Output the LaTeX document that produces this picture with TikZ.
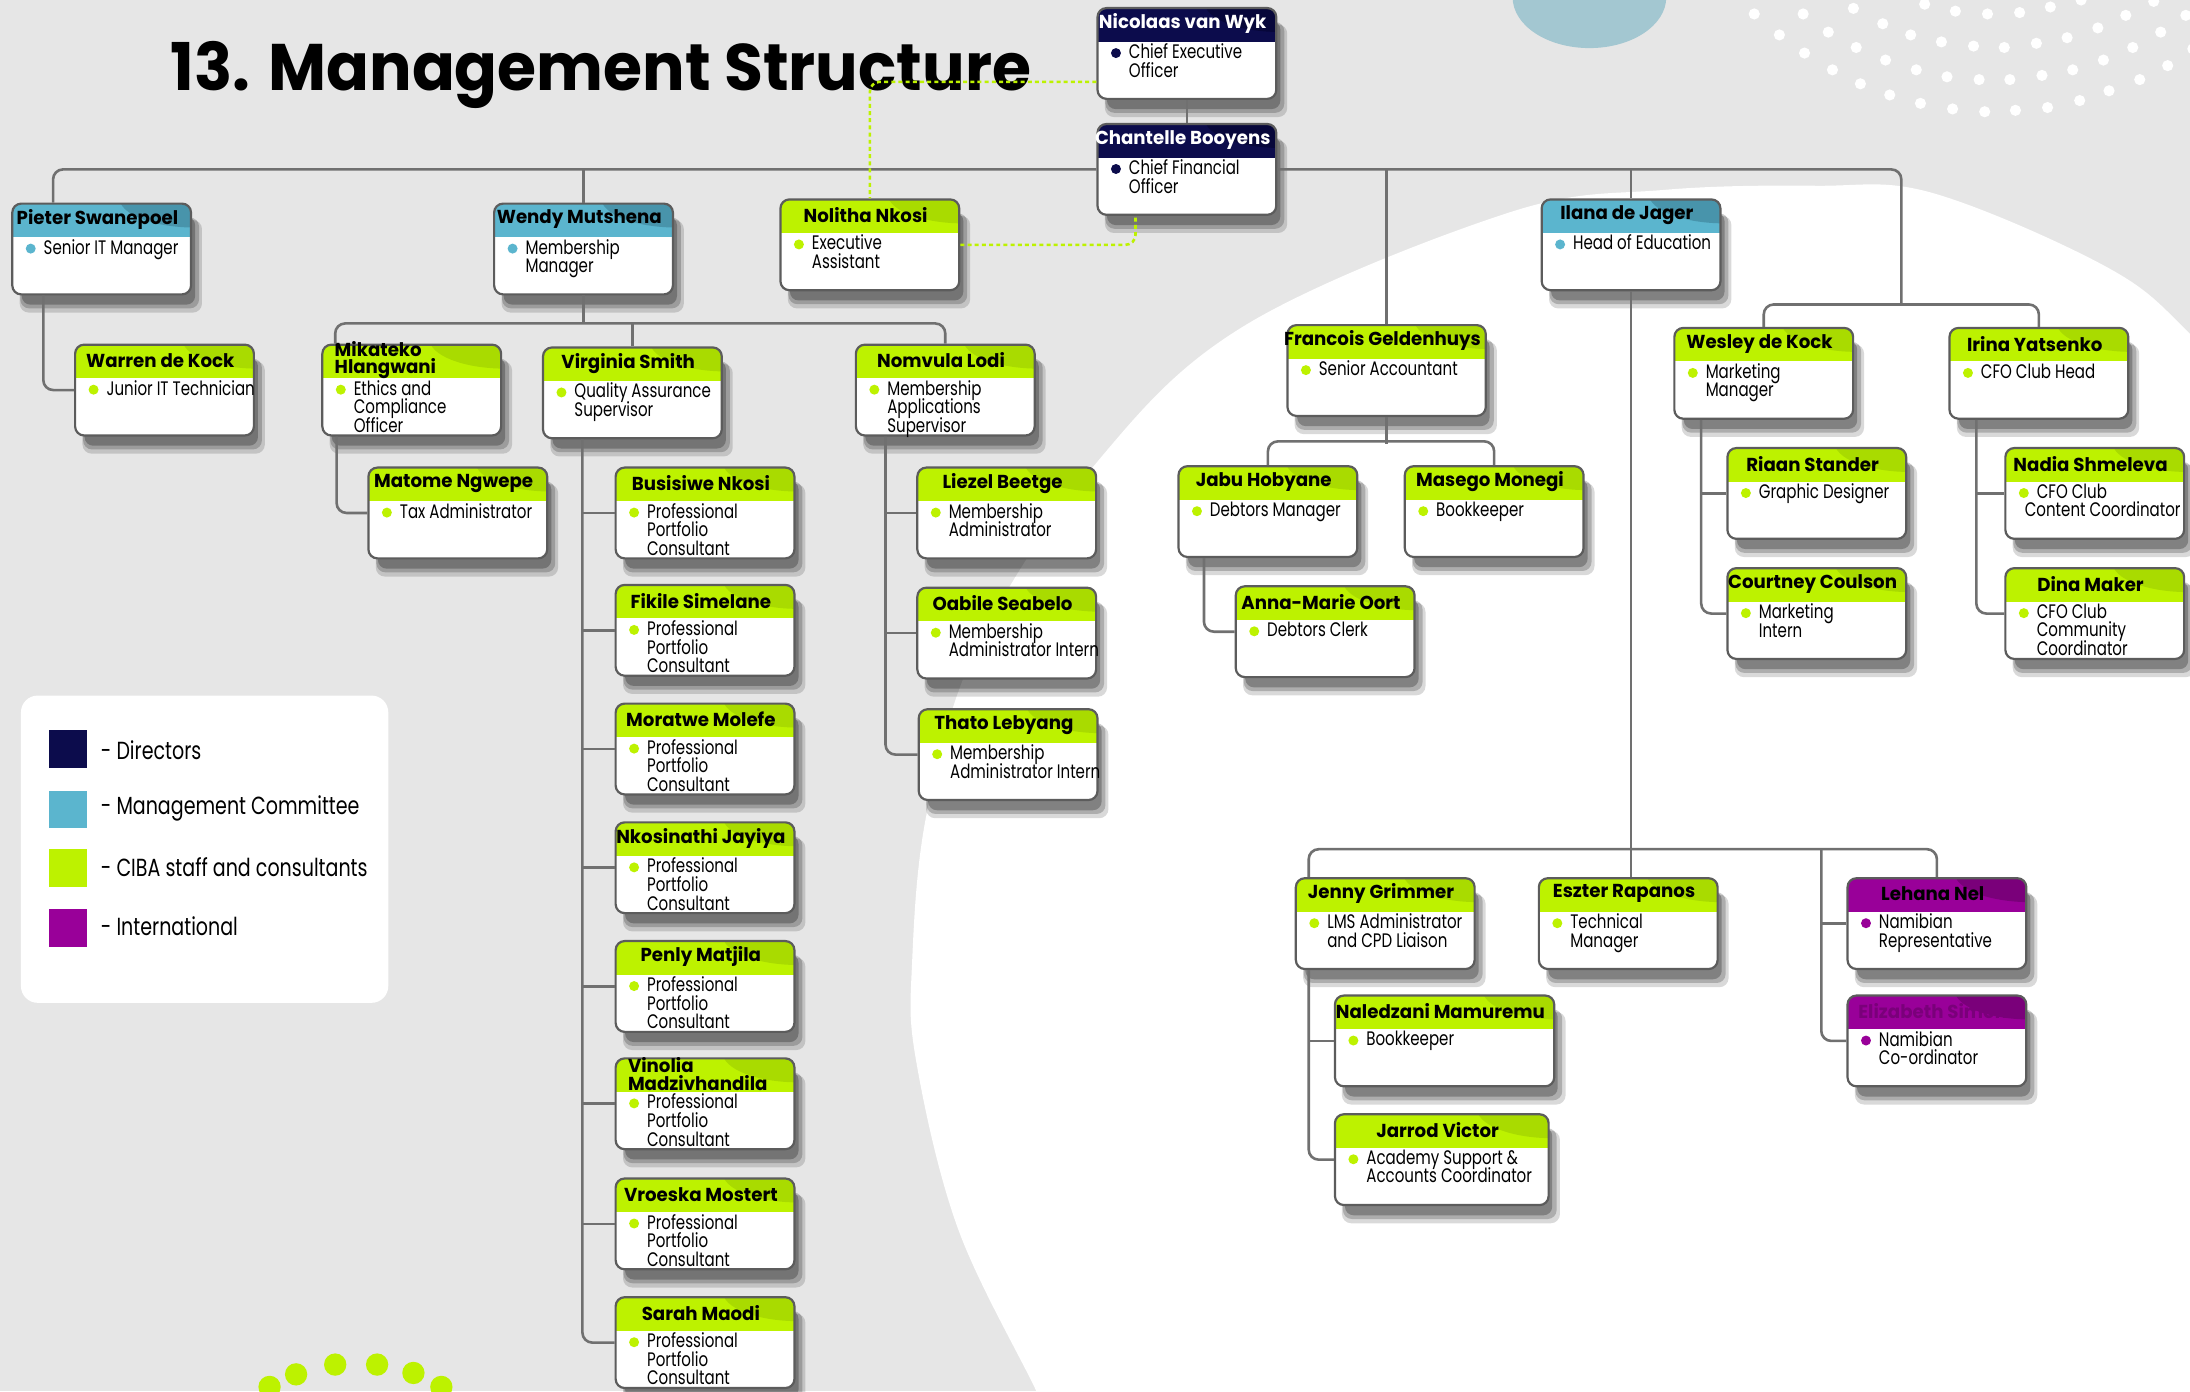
\documentclass[tikz,border=0pt]{standalone}
\usepackage{fontspec}
\setmainfont{Poppins}[FakeStretch=0.77]
\newfontfamily\whofamily{Poppins}[FakeStretch=0.97]
\newfontfamily\titlefamily{Poppins}[FakeStretch=0.96]
\usetikzlibrary{calc,shadows}

\definecolor{paper}{HTML}{E6E6E6}
\definecolor{dir}{HTML}{0C0C4C}
\definecolor{dirhi}{HTML}{07073A}
\definecolor{mgm}{HTML}{5BB5CE}
\definecolor{mgmhi}{HTML}{4894AB}
\definecolor{cib}{HTML}{BDF200}
\definecolor{cibhi}{HTML}{A9DB00}
\definecolor{int}{HTML}{990099}
\definecolor{inthi}{HTML}{7A007A}
\definecolor{linkgray}{HTML}{707070}
\definecolor{boxgray}{HTML}{5C5C5C}
\definecolor{blob}{HTML}{A3C7D1}

\newcommand{\whofont}{\whofamily\bfseries\fontsize{9.4}{8.6}\selectfont\lineskiplimit=-20pt\lineskip=0pt}
\newcommand{\rolefont}{\fontsize{9.8}{9.3}\selectfont\lineskiplimit=-20pt\lineskip=0pt}
% two-line names sit at the left of the header
\newcommand{\twoline}[2]{\makebox[73pt][l]{#1}\\#2}

% one staff box: [box options]{id}{top left}{kind}{name}{role}
\newcommand{\staff}[6][]{%
  \node[orgbox={#4}{#4hi}, #1] (#2) at (#3) {};
  \node[who, #4 who] (#2-n) at ($(#2.north)+(-3,12)$) {#5};
  \node[role] (#2-r) at ($(#2.north west)+(23,26)$) {#6};
  \fill[#4] ($(#2.north west)+(14,33)$) circle (2.5pt);
}

\begin{document}
\begin{tikzpicture}[x=0.7pt, y=-0.7pt,
    orgbox/.style 2 args={draw=boxgray, line width=1.1pt, fill=white,
      rounded corners=4.5pt, anchor=north west, inner sep=0pt,
      minimum width=89.6pt, minimum height=45.5pt,
      drop shadow={shadow xshift=4.5pt, shadow yshift=-8.5pt, shadow scale=1.02, opacity=0.15, fill=black},
      drop shadow={shadow xshift=4pt, shadow yshift=-7pt, opacity=0.2, fill=black},
      drop shadow={shadow xshift=3.5pt, shadow yshift=-6pt, shadow scale=0.97, opacity=0.25, fill=black},
      path picture={
        \fill[#1, sharp corners] (path picture bounding box.north west)
          rectangle ([yshift=-16.8pt]path picture bounding box.north east);
        \fill[#2, sharp corners] ([xshift=2pt,yshift=3pt]path picture bounding box.north east)
          ellipse [x radius=38pt, y radius=15pt];
      }},
    who/.style={font=\whofont, align=left, inner sep=0pt},
    dir who/.style={text=white}, mgm who/.style={}, cib who/.style={}, int who/.style={},
    role/.style={font=\rolefont, align=left, anchor=north west, inner sep=0pt},
    key/.style={anchor=west, inner sep=0pt, font=\fontsize{12.4}{14}\selectfont},
    link/.style={draw=linkgray, line width=1.3pt, rounded corners=5pt},
    assist/.style={draw=cib, line width=1.3pt, dash pattern=on 2pt off 1.6pt, rounded corners=5pt}]

    \useasboundingbox (0,0) rectangle (1568,996);

    % Background
    \fill[paper] (0,0) rectangle (1568,996);
    \begin{scope}
        \clip (0,0) rectangle (1568,996);
        \fill[white] plot[smooth, tension=0.6] coordinates {(756,1030) (742,996) (686,880)
            (656,760) (653,690) (664,580) (701,460) (787,329) (893,232) (1081,152) (1191,136)
            (1300,133) (1383,138) (1508,191) (1568,239) (1640,320)}
            -- (1640,1030) -- cycle;
        \fill[blob] (1138,-2) ellipse [x radius=38.5pt, y radius=25.5pt];
        % -- white dots, top right
        \foreach \p in {(1256,10),(1274,25),(1292,38),(1312,50),(1332,60),(1353,68),(1375,74),
            (1398,78),(1421,80),(1443,79),(1466,77),(1489,72),(1510,65),(1532,57),(1552,47),(1570,35),
            (1291,10),(1309,23),(1329,34),(1350,43),(1372,50),(1394,55),(1417,57),(1439,57),
            (1462,54),(1484,50),(1506,43),(1527,34),(1547,23),(1565,11),
            (1327,6),(1348,17),(1368,25),(1390,30),(1413,33),(1435,34),(1458,31),(1480,27),
            (1502,20),(1522,11),(1542,1),
            (1378,3),(1400,8),(1423,10),(1446,9),(1468,5),(1490,0)}
            \fill[white] \p circle (2.8pt);
        % -- green dots, bottom left
        \foreach \p in {(193,993),(212,984),(240,977),(270,977),(296,983),(316,993)}
            \fill[cib] \p circle (5.6pt);
    \end{scope}

    % Legend
    \fill[white, rounded corners=8.4pt] (15,498) rectangle (278,718);
    \fill[dir] (35,523) rectangle ++(27,27);
    \fill[mgm] (35,566) rectangle ++(27,27);
    \fill[cib] (35,608) rectangle ++(27,27);
    \fill[int] (35,651) rectangle ++(27,27);
    \node[key] (key-dir) at (72,537) {- Directors};
    \node[key] (key-mgm) at (72,579) {- Management Committee};
    \node[key] (key-cib) at (72,621) {- CIBA staff and consultants};
    \node[key] (key-int) at (72,663) {- International};

    % Title
    \node[anchor=base west, inner sep=0pt, font=\titlefamily\bfseries\fontsize{33}{36}\selectfont]
        (title) at (122,65) {13. Management Structure};

    % Directors
    \staff{ceo}{785,5}{dir}{Nicolaas van Wyk}{Chief Executive\\Officer}
    \staff{cfo}{785,88}{dir}{Chantelle Booyens}{Chief Financial\\Officer}

    % Management committee
    \staff{pieter}{8,145}{mgm}{Pieter Swanepoel}{Senior IT Manager}
    \staff{wendy}{353,145}{mgm}{Wendy Mutshena}{Membership\\Manager}
    \staff{ilana}{1103,142}{mgm}{Ilana de Jager}{Head of Education}

    % Staff -- left side
    \staff{nolitha}{558,142}{cib}{Nolitha Nkosi}{Executive\\Assistant}
    \staff{warren}{53,246}{cib}{Warren de Kock}{Junior IT Technician}
    \staff{mikateko}{230,246}{cib}{\twoline{Mikateko}{Hlangwani}}{Ethics and\\Compliance\\Officer}
    \staff{virginia}{388,248}{cib}{Virginia Smith}{Quality Assurance\\Supervisor}
    \staff{nomvula}{612,246}{cib}{Nomvula Lodi}{Membership\\Applications\\Supervisor}
    \staff{matome}{263,334}{cib}{Matome Ngwepe}{Tax Administrator}
    \foreach \id/\y/\nm in {busisiwe/334/Busisiwe Nkosi, fikile/418/Fikile Simelane,
        moratwe/503/Moratwe Molefe, nkosinathi/588/Nkosinathi Jayiya, penly/673/Penly Matjila,
        vinolia/757/\twoline{Vinolia}{Madzivhandila}, vroeska/843/Vroeska Mostert, sarah/928/Sarah Maodi}
        {\staff{\id}{440,\y}{cib}{\nm}{Professional\\Portfolio\\Consultant}}
    \staff{liezel}{656,334}{cib}{Liezel Beetge}{Membership\\Administrator}
    \staff{oabile}{656,420}{cib}{Oabile Seabelo}{Membership\\Administrator Intern}
    \staff{thato}{657,507}{cib}{Thato Lebyang}{Membership\\Administrator Intern}

    % Staff -- right side
    \staff[minimum width=99.4pt]{francois}{921,232}{cib}{Francois Geldenhuys}{Senior Accountant}
    \staff{jabu}{843,333}{cib}{Jabu Hobyane}{Debtors Manager}
    \staff{masego}{1005,333}{cib}{Masego Monegi}{Bookkeeper}
    \staff{anna}{884,419}{cib}{Anna-Marie Oort}{Debtors Clerk}
    \staff{wesley}{1198,234}{cib}{Wesley de Kock}{Marketing\\Manager}
    \staff{irina}{1395,234}{cib}{Irina Yatsenko}{CFO Club Head}
    \staff{riaan}{1236,320}{cib}{Riaan Stander}{Graphic Designer}
    \staff{courtney}{1236,406}{cib}{Courtney Coulson}{Marketing\\Intern}
    \staff{nadia}{1435,320}{cib}{Nadia Shmeleva}{CFO Club\\\hspace*{-6pt}Content Coordinator}
    \staff{dina}{1435,406}{cib}{Dina Maker}{CFO Club\\Community\\Coordinator}
    \staff{jenny}{927,628}{cib}{Jenny Grimmer}{LMS Administrator\\and CPD Liaison}
    \staff{eszter}{1101,628}{cib}{Eszter Rapanos}{Technical\\Manager}
    \staff[minimum width=109.9pt]{naledzani}{955,712}{cib}{Naledzani Mamuremu}{Bookkeeper}
    \staff[minimum width=107.1pt]{jarrod}{955,797}{cib}{Jarrod Victor}{Academy Support \&\\Accounts Coordinator}

    % International
    \staff{lehana}{1322,628}{int}{Lehana Nel}{Namibian\\Representative}
    \staff{elizabeth}{1322,712}{int}{\color{inthi}Elizabeth Simon}{Namibian\\Co-ordinator}

    % Connectors
    % -- main bar (through the CFO)
    \draw[link] ($(pieter.north west)+(30,0)$) |- (cfo.west);
    \draw[link] (cfo.east) -| ($(wesley.north)!0.5!(irina.north)+(0,-16)$);
    \draw[link] (ceo) -- (cfo);
    \foreach \b in {wendy, francois, ilana}
        \draw[link] (\b.north) -- (\b.north |- cfo.east);

    % -- left side
    \draw[link] ($(pieter.south west)+(23,0)$) |- (warren.west);
    \coordinate (wendybar) at ($(wendy.south)+(0,20)$);
    \draw[link] (wendy.south) -- (wendybar);
    \draw[link] ($(mikateko.north west)+(10,0)$) |- (wendybar) -| (nomvula.north);
    \draw[link] (virginia.north) -- (virginia.north |- wendybar);
    \draw[link] ($(mikateko.south west)+(11,0)$) |- (matome.west);
    \draw[link] ($(virginia.south west)+(29,0)$) |- (sarah.west);
    \foreach \p in {busisiwe, fikile, moratwe, nkosinathi, penly, vinolia, vroeska}
        \draw[link] (\p.west) -- ++(-23,0);
    \draw[link] ($(nomvula.south west)+(22,0)$) |- (thato.west);
    \draw[link] (liezel.west) -- ++(-22,0);
    \draw[link] (oabile.west) -- ++(-22,0);

    % -- right side
    \draw[link] (francois.south) -- ++(0,19);
    \draw[link] (jabu.north) -- ++(0,-17) -| (masego.north);
    \draw[link] ($(jabu.south west)+(19,0)$) |- (anna.west);
    \draw[link] (wesley.north) -- ++(0,-16) -| (irina.north);
    \draw[link] ($(wesley.south west)+(20,0)$) |- (courtney.west);
    \draw[link] (riaan.west) -- ++(-18,0);
    \draw[link] ($(irina.south west)+(20,0)$) |- (dina.west);
    \draw[link] (nadia.west) -- ++(-20,0);
    \draw[link] (ilana.south) -- (ilana.south |- eszter.north);
    \draw[link] ($(jenny.north west)+(10,0)$) -- ++(0,-20) -| (lehana.north);
    \draw[link] ($(jenny.south west)+(10,0)$) |- (jarrod.west);
    \draw[link] (naledzani.west) -- ++(-18,0);
    \draw[link] ($(lehana.north west)+(-18,-20)$) |- (elizabeth.west);
    \draw[link] (lehana.west) -- ++(-18,0);

    % -- assistant
    \draw[assist] ($(ceo.south west)+(0,-13)$) -| (nolitha.north);
    \draw[assist] (nolitha.east) -| ($(cfo.south west)+(28,0)$);
\end{tikzpicture}
\end{document}
